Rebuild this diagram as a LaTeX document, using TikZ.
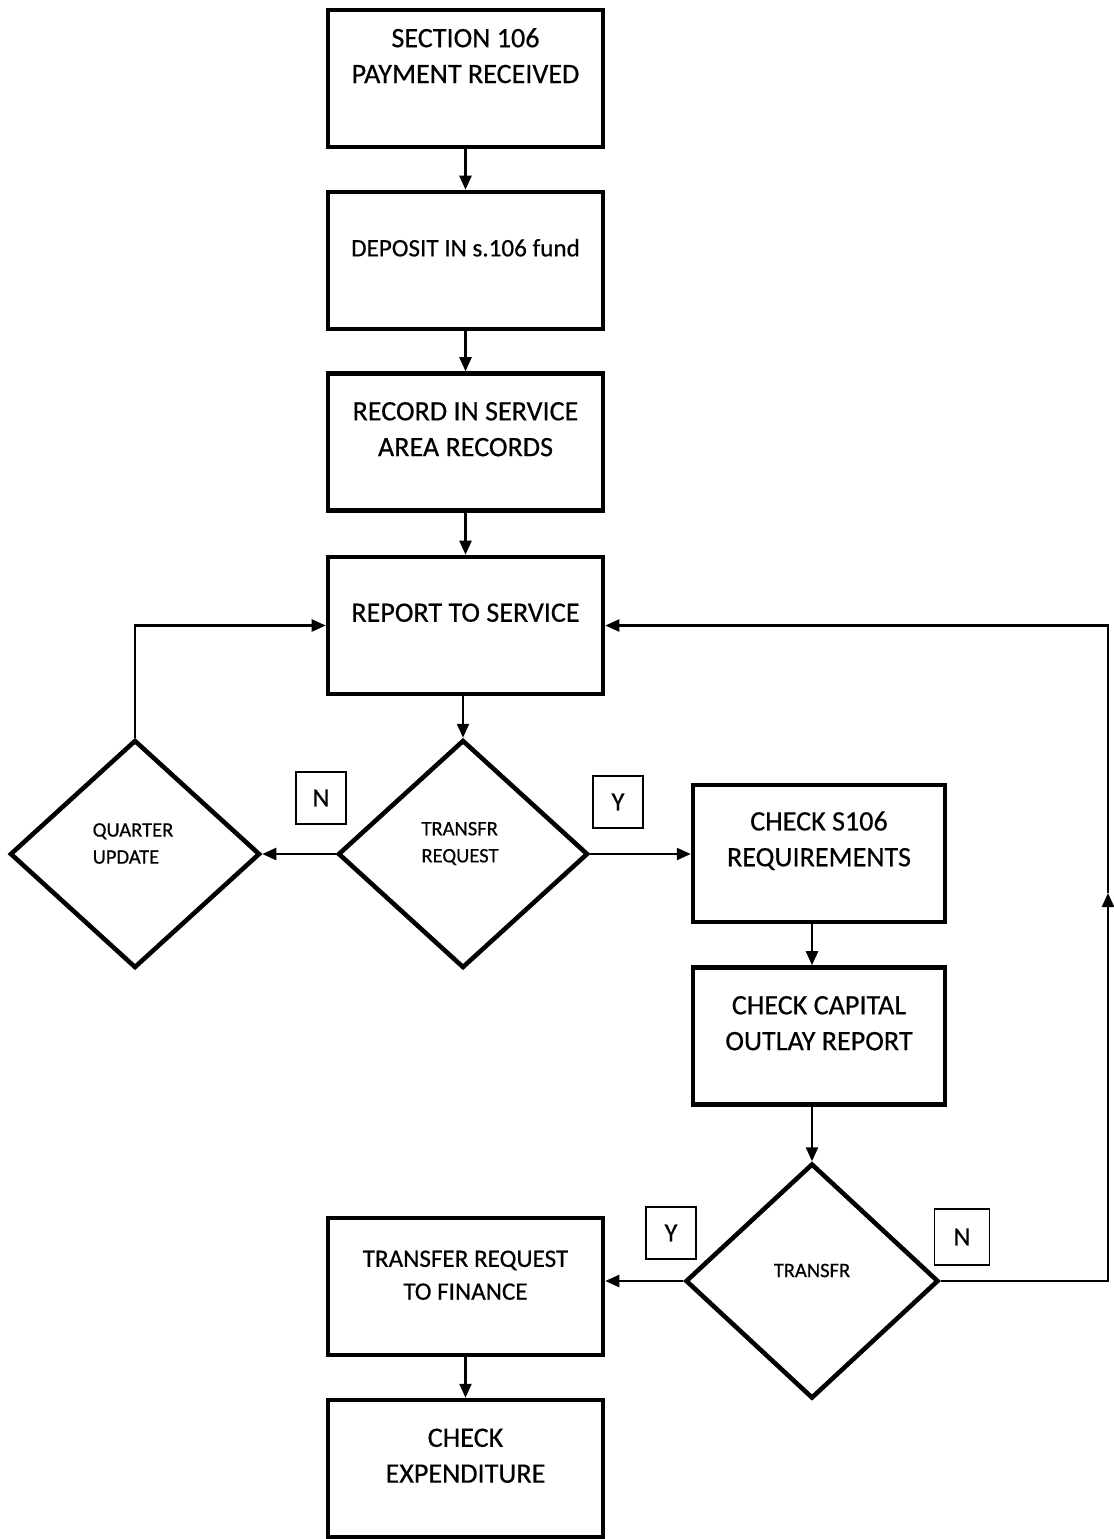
\documentclass[tikz,border=0pt]{standalone}
\usepackage{fontspec}
\setmainfont{Carlito}[FakeBold=0.5]
\usetikzlibrary{shapes.geometric,arrows.meta,positioning}

\tikzset{
  box/.style={draw, line width=2.6pt, minimum width=5.5cm, minimum height=2.74cm, inner sep=0pt},
  decision/.style={draw, diamond, line width=2.6pt, minimum width=5cm, minimum height=4.56cm, inner sep=0pt},
  boxtext/.style={align=center, inner sep=0pt, font=\fontsize{16}{20.4}\selectfont},
  smalltext/.style={font=\fontsize{14.3}{18.7}\selectfont},
  dtext/.style={align=left, inner sep=0pt, font=\fontsize{11.7}{15.4}\selectfont},
  flag/.style={draw, line width=0.7pt, minimum width=1cm, minimum height=1.04cm, inner sep=0pt, font=\fontsize{15}{16}\selectfont},
  arr/.style={line width=1.3pt, -{Triangle[length=0.28cm, width=0.24cm]}}
}

\begin{document}
\begin{tikzpicture}[x=0.02cm, y=-0.02cm]
\useasboundingbox (0,0) rectangle (1113,1539);

% main column
\node[box] (pay) at (465.5,78.5) {};
\node[boxtext] (payT) at ([yshift=-0.96cm]pay.north) {SECTION 106\\PAYMENT RECEIVED};
\node[box] (dep) at (465.5,260.5) {};
\node[boxtext, smalltext] (depT) at ([yshift=-1.16cm]dep.north) {DEPOSIT IN s.106 fund};
\node[box] (rec) at (465.5,442) {};
\node[boxtext] (recT) at ([yshift=-1.16cm]rec.north) {RECORD IN SERVICE\\AREA RECORDS};
\node[box] (rep) at (465.5,625.5) {};
\node[boxtext] (repT) at ([yshift=-1.16cm]rep.north) {REPORT TO SERVICE};

% first decision
\node[decision] (req) at (463,854) {};
\node[dtext] (reqT) at ([xshift=-0.06cm, yshift=0.21cm]req.center) {TRANSFR\\REQUEST};
\node[decision] (quart) at (135,854) {};
\node[dtext] (quartT) at ([xshift=-0.04cm, yshift=0.21cm]quart.center) {QUARTER\\UPDATE};
\node[flag] (n1) at (321,798) {N};
\node[flag] (y1) at (618,802) {Y};

% right column
\node[box, minimum width=5.04cm] (chk) at (819,853.5) {};
\node[boxtext] (chkT) at ([yshift=-1.16cm]chk.north) {CHECK S106\\REQUIREMENTS};
\node[box, minimum width=5.04cm] (cap) at (819,1036) {};
\node[boxtext] (capT) at ([yshift=-1.16cm]cap.north) {CHECK CAPITAL\\OUTLAY REPORT};

% second decision
\node[decision, minimum width=5.06cm, minimum height=4.7cm] (tr) at (812,1281) {};
\node[dtext] (trT) at ([yshift=0.21cm]tr.center) {TRANSFR};
\node[flag] (y2) at (671,1233) {Y};
\node[flag, minimum width=1.1cm, minimum height=1.12cm] (n2) at (962,1237) {N};

\node[box] (trf) at (465.5,1286.5) {};
\node[boxtext, smalltext] (trfT) at ([yshift=-1.19cm]trf.north) {TRANSFER REQUEST\\TO FINANCE};
\node[box] (exp) at (465.5,1468.5) {};
\node[boxtext] (expT) at ([yshift=-1.16cm]exp.north) {CHECK\\EXPENDITURE};

\coordinate (up) at (1108,893);

% connectors
\draw[arr] (pay) -- (dep);
\draw[arr] (dep) -- (rec);
\draw[arr] (rec) -- (rep);
\draw[arr] (rep.south -| req.north) -- (req.north);
\draw[arr] (req.west) -- (quart.east);
\draw[arr] (quart.north) |- (rep.west);
\draw[arr] (req.east) -- (req.east -| chk.west);
\draw[arr] (chk.south -| tr.north) -- (cap.north -| tr.north);
\draw[arr] (cap.south -| tr.north) -- (tr.north);
\draw[arr] (tr.west) -- (tr.west -| trf.east);
\draw[arr] (tr.east) -| (up);
\draw[arr] (up) |- (rep.east);
\draw[arr] (trf) -- (exp);
\end{tikzpicture}
\end{document}
